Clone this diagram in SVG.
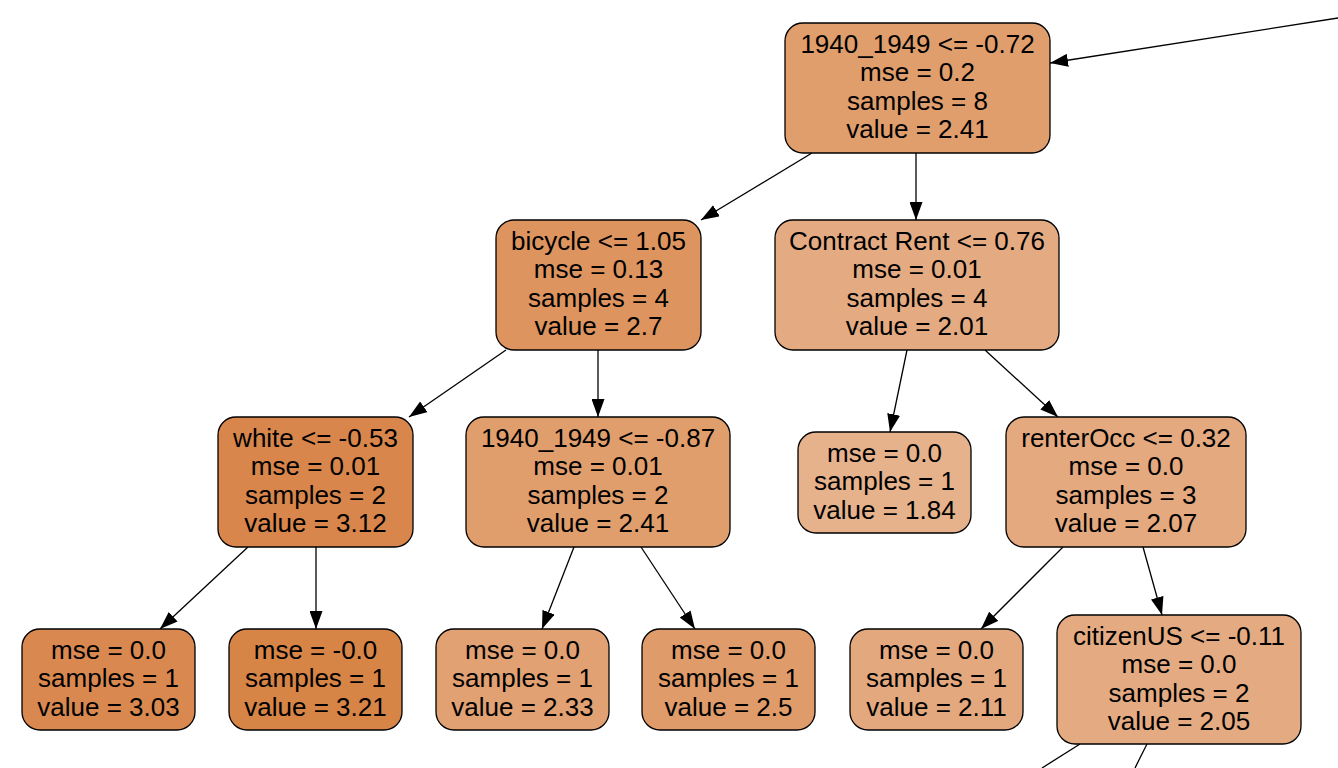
<svg xmlns="http://www.w3.org/2000/svg" width="1338" height="768" viewBox="0 0 1338 768">
<defs>
<marker id="ah" markerUnits="userSpaceOnUse" markerWidth="18" markerHeight="13" refX="18" refY="6.5" orient="auto">
<path d="M0,0 L18,6.5 L0,13 z" fill="#000"/>
</marker>
</defs>
<style>
.box{stroke:#000;stroke-width:1.3}
.t{font-family:"Liberation Sans",Arial,Helvetica,sans-serif;font-size:26px;fill:#000;text-anchor:middle}
.e{stroke:#000;stroke-width:1.3;fill:none}
.ea{stroke:#000;stroke-width:1.3;fill:none;marker-end:url(#ah)}
</style>
<rect width="1338" height="768" fill="#fff"/>
<g id="connectors">
<line class="ea" x1="1338" y1="18" x2="1050" y2="63"/>
<line class="ea" x1="812" y1="153" x2="701" y2="220"/>
<line class="ea" x1="916" y1="153" x2="916" y2="220"/>
<line class="ea" x1="506" y1="350" x2="409" y2="417"/>
<line class="ea" x1="598" y1="350" x2="598" y2="417"/>
<line class="ea" x1="907" y1="350" x2="890" y2="432"/>
<line class="ea" x1="985" y1="350" x2="1058" y2="417"/>
<line class="ea" x1="248" y1="547" x2="160" y2="629"/>
<line class="ea" x1="316" y1="547" x2="316" y2="629"/>
<line class="ea" x1="574" y1="547" x2="542" y2="629"/>
<line class="ea" x1="641" y1="547" x2="695" y2="629"/>
<line class="ea" x1="1063" y1="547" x2="981" y2="629"/>
<line class="ea" x1="1143" y1="547" x2="1162" y2="615"/>
<line class="e" x1="1080" y1="744" x2="1042" y2="768"/>
<line class="e" x1="1147" y1="744" x2="1135" y2="768"/>
</g>
<g id="n_root">
<rect class="box" x="785" y="23" width="265" height="130" rx="18" fill="#e09e6d"/>
<text class="t" x="917.5" y="52.5">1940_1949 &lt;= -0.72</text>
<text class="t" x="917.5" y="81">mse = 0.2</text>
<text class="t" x="917.5" y="109.5">samples = 8</text>
<text class="t" x="917.5" y="138">value = 2.41</text>
</g>
<g id="n_bicycle">
<rect class="box" x="496" y="220" width="205" height="130" rx="18" fill="#dd945f"/>
<text class="t" x="598.5" y="249.5">bicycle &lt;= 1.05</text>
<text class="t" x="598.5" y="278">mse = 0.13</text>
<text class="t" x="598.5" y="306.5">samples = 4</text>
<text class="t" x="598.5" y="335">value = 2.7</text>
</g>
<g id="n_contract">
<rect class="box" x="775" y="220" width="284" height="130" rx="18" fill="#e4ab82"/>
<text class="t" x="917" y="249.5">Contract Rent &lt;= 0.76</text>
<text class="t" x="917" y="278">mse = 0.01</text>
<text class="t" x="917" y="306.5">samples = 4</text>
<text class="t" x="917" y="335">value = 2.01</text>
</g>
<g id="n_white">
<rect class="box" x="218" y="417" width="195" height="130" rx="18" fill="#d8864b"/>
<text class="t" x="315.5" y="446.5">white &lt;= -0.53</text>
<text class="t" x="315.5" y="475">mse = 0.01</text>
<text class="t" x="315.5" y="503.5">samples = 2</text>
<text class="t" x="315.5" y="532">value = 3.12</text>
</g>
<g id="n_1940b">
<rect class="box" x="466" y="417" width="264" height="130" rx="18" fill="#e09e6d"/>
<text class="t" x="598" y="446.5">1940_1949 &lt;= -0.87</text>
<text class="t" x="598" y="475">mse = 0.01</text>
<text class="t" x="598" y="503.5">samples = 2</text>
<text class="t" x="598" y="532">value = 2.41</text>
</g>
<g id="n_l184">
<rect class="box" x="798" y="432" width="173" height="101" rx="18" fill="#e6b28b"/>
<text class="t" x="884.5" y="461.5">mse = 0.0</text>
<text class="t" x="884.5" y="490">samples = 1</text>
<text class="t" x="884.5" y="518.5">value = 1.84</text>
</g>
<g id="n_renter">
<rect class="box" x="1006" y="417" width="240" height="130" rx="18" fill="#e4a97f"/>
<text class="t" x="1126" y="446.5">renterOcc &lt;= 0.32</text>
<text class="t" x="1126" y="475">mse = 0.0</text>
<text class="t" x="1126" y="503.5">samples = 3</text>
<text class="t" x="1126" y="532">value = 2.07</text>
</g>
<g id="n_l303">
<rect class="box" x="22" y="629" width="173" height="101" rx="18" fill="#d98950"/>
<text class="t" x="108.5" y="658.5">mse = 0.0</text>
<text class="t" x="108.5" y="687">samples = 1</text>
<text class="t" x="108.5" y="715.5">value = 3.03</text>
</g>
<g id="n_l321">
<rect class="box" x="229" y="629" width="173" height="101" rx="18" fill="#d78447"/>
<text class="t" x="315.5" y="658.5">mse = -0.0</text>
<text class="t" x="315.5" y="687">samples = 1</text>
<text class="t" x="315.5" y="715.5">value = 3.21</text>
</g>
<g id="n_l233">
<rect class="box" x="436" y="629" width="173" height="101" rx="18" fill="#e1a173"/>
<text class="t" x="522.5" y="658.5">mse = 0.0</text>
<text class="t" x="522.5" y="687">samples = 1</text>
<text class="t" x="522.5" y="715.5">value = 2.33</text>
</g>
<g id="n_l25">
<rect class="box" x="642" y="629" width="173" height="101" rx="18" fill="#df9b69"/>
<text class="t" x="728.5" y="658.5">mse = 0.0</text>
<text class="t" x="728.5" y="687">samples = 1</text>
<text class="t" x="728.5" y="715.5">value = 2.5</text>
</g>
<g id="n_l211">
<rect class="box" x="850" y="629" width="173" height="101" rx="18" fill="#e3a87e"/>
<text class="t" x="936.5" y="658.5">mse = 0.0</text>
<text class="t" x="936.5" y="687">samples = 1</text>
<text class="t" x="936.5" y="715.5">value = 2.11</text>
</g>
<g id="n_citizen">
<rect class="box" x="1057" y="615" width="244" height="129" rx="18" fill="#e4ab82"/>
<text class="t" x="1179" y="644.5">citizenUS &lt;= -0.11</text>
<text class="t" x="1179" y="673">mse = 0.0</text>
<text class="t" x="1179" y="701.5">samples = 2</text>
<text class="t" x="1179" y="730">value = 2.05</text>
</g>
</svg>
